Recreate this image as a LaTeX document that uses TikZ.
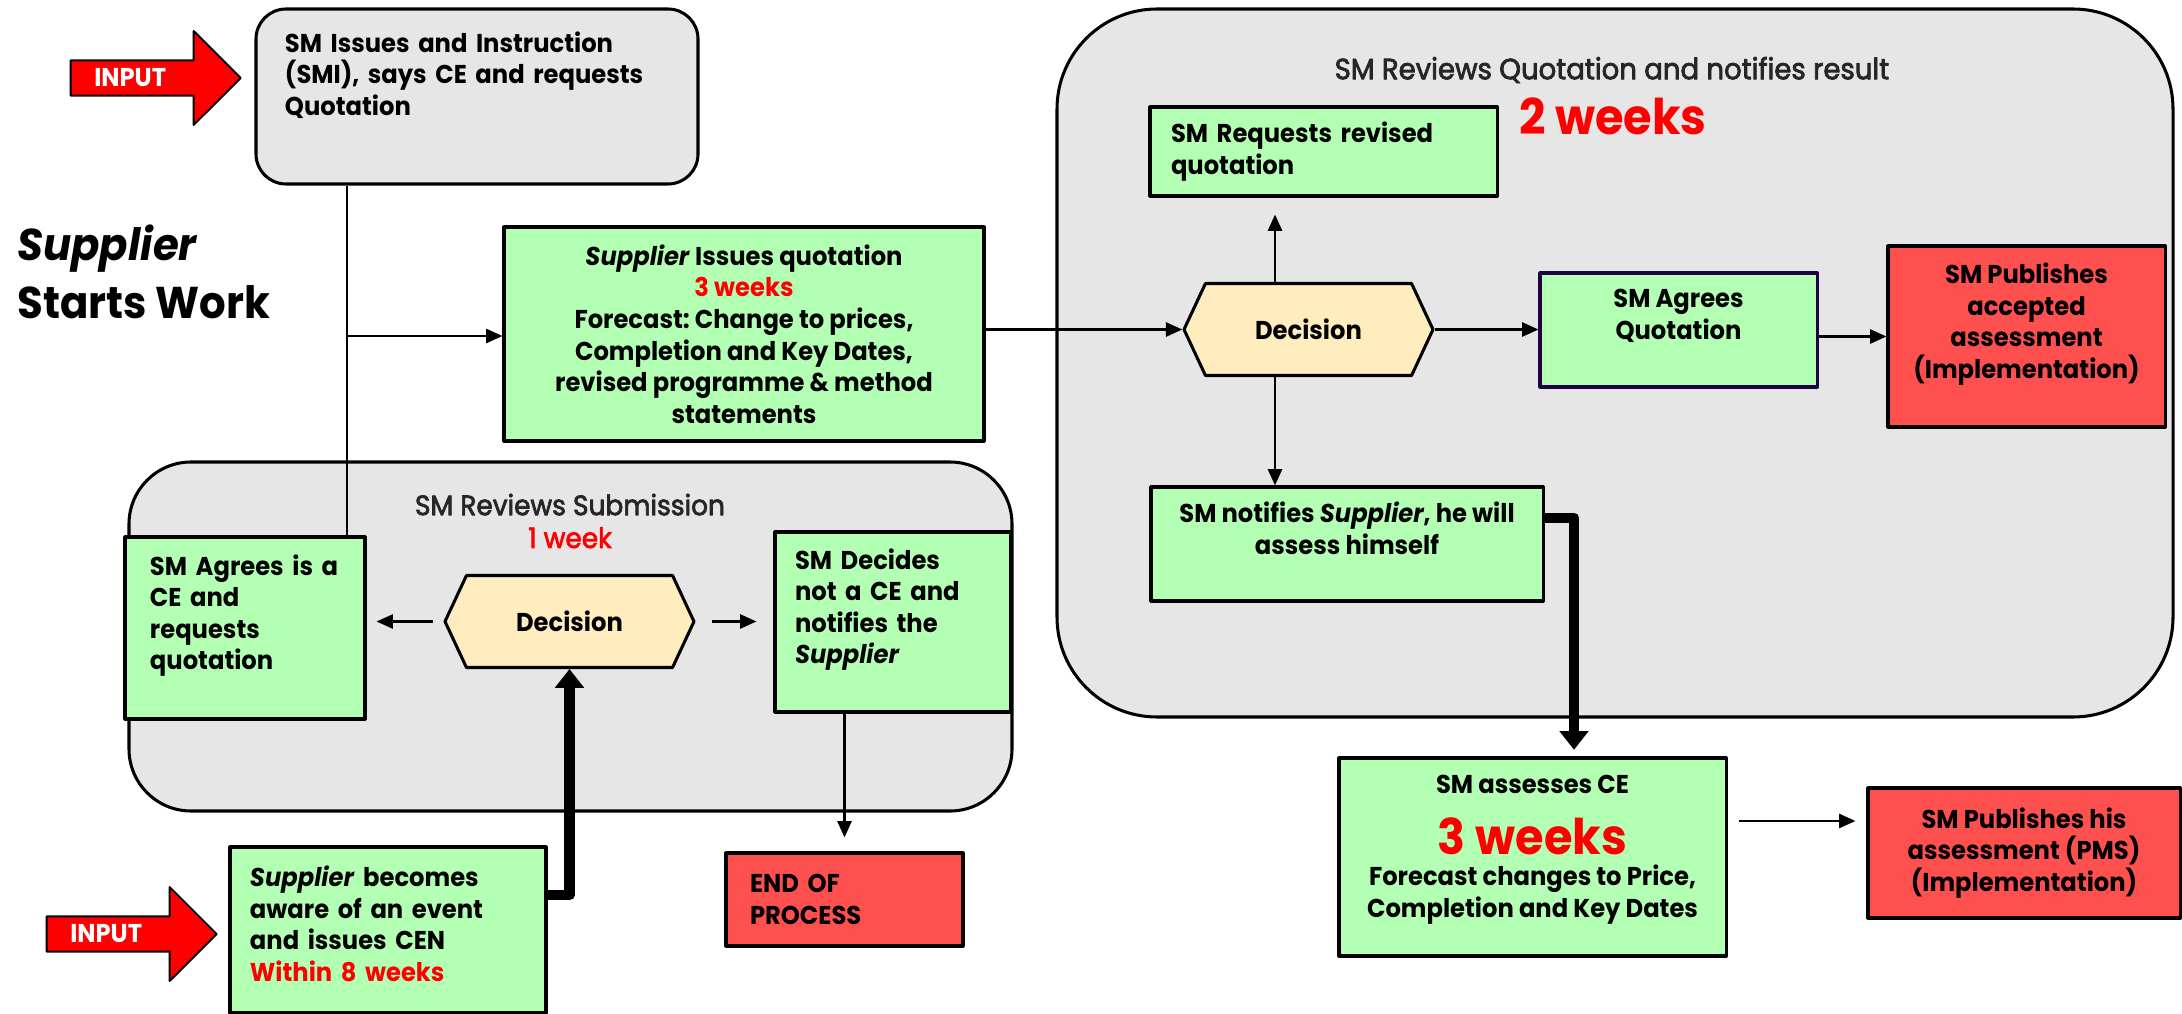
\documentclass[tikz,border=0pt]{standalone}
\usepackage{fontspec}
\setmainfont{Poppins}[FakeStretch=0.94]
\newfontfamily\titlefont{Poppins}[FakeStretch=0.94, FakeBold=2.5]
\usetikzlibrary{arrows.meta,shapes.symbols,shapes.arrows}
\frenchspacing

\definecolor{panelgray}{HTML}{E6E6E6}
\definecolor{boxgreen}{HTML}{B3FFB3}
\definecolor{boxred}{HTML}{FF5050}
\definecolor{decfill}{HTML}{FFEDBF}
\definecolor{txtred}{HTML}{FF0000}
\definecolor{edgepurple}{HTML}{1F0040}
\definecolor{titlegray}{HTML}{262626}

\newcommand{\boxfont}{\bfseries\fontsize{11}{13.5}\selectfont}
\newcommand{\weekfont}{\bfseries\fontsize{21}{25}\selectfont}

\tikzset{
  panel/.style={draw=black, line width=1.3pt, fill=panelgray},
  greybox/.style={draw=black, line width=1.3pt, fill=panelgray, inner ysep=0pt},
  greenbox/.style={draw=black, line width=1.3pt, fill=boxgreen, inner ysep=0pt},
  redbox/.style={draw=black, line width=1.3pt, fill=boxred, inner ysep=0pt},
  decision/.style={shape=signal, signal to=west and east, signal pointer angle=130,
    draw=black, line width=1.3pt, fill=decfill, minimum width=3.735cm,
    minimum height=1.38cm, inner sep=0pt},
  inputarrow/.style={shape=single arrow, draw=black, line width=0.8pt, fill=red,
    text=white, minimum height=2.55cm, minimum width=1.41cm,
    single arrow head extend=0.37cm, single arrow tip angle=90, inner sep=2pt},
  paneltitle/.style={font=\titlefont\fontsize{12}{14}\selectfont, text=titlegray, align=center},
  weeks/.style={font=\weekfont, text=txtred},
  starttext/.style={font=\bfseries\fontsize{19}{24.5}\selectfont, align=left},
  flow/.style={line width=1.1pt, -{Triangle[length=7pt,width=6pt]}},
  plain/.style={line width=1.1pt},
  bigflow/.style={line width=4.6pt, -{Triangle[length=8pt,width=12pt]}},
}

\begin{document}
\begin{tikzpicture}[x=0.015cm, y=-0.015cm, font=\boxfont, line join=round]
	% 1 unit = 1 px of the reference
	\useasboundingbox (0,0) rectangle (2182,1014);
	% grey panels
	\draw[panel, rounded corners=0.93cm] (129,462) rectangle (1012,811);
	\draw[panel, rounded corners=1.5cm] (1057,9) rectangle (2173,717);
	\node[paneltitle] (title1) at (570,521) {SM Reviews Submission\\\textcolor{txtred}{1 week}};
	\node[paneltitle, font=\titlefont\fontsize{12.5}{14}\selectfont] (title2) at (1612,70)
		{SM Reviews Quotation and notifies result};
	\node[weeks] (dur2) at (1613,116) {2 weeks};
	% inputs
	\node[inputarrow, anchor=tip] (in1) at (242,78) {INPUT\hspace*{0.5cm}};
	\node[inputarrow, anchor=tip] (in2) at (218,934) {INPUT\hspace*{0.5cm}};
	\node[starttext, anchor=west] (starts) at (9,272) {\textit{Supplier}\\Starts Work};
	% left part
	\node[greybox, rounded corners=0.45cm, minimum width=6.63cm, minimum height=2.625cm,
		inner xsep=0.435cm, text width=5.76cm, align=left] (smi) at (477,96.5)
		{SM Issues and Instruction\\(SMI), says CE and requests\\Quotation\\[6pt]~};
	\node[greenbox, minimum width=7.2cm, minimum height=3.21cm, align=center] (quote) at (744,334)
		{\textit{Supplier} Issues quotation\\\textcolor{txtred}{3 weeks}\\Forecast: Change to prices,\\Completion and Key Dates,\\revised programme \& method\\statements};
	\node[greenbox, minimum width=3.6cm, minimum height=2.73cm,
		inner xsep=0.375cm, text width=2.85cm, align=left] (agreeCE) at (245,628)
		{SM Agrees is a\\CE and\\requests\\quotation\\~};
	\node[decision] (dec1) at (569.5,621.5) {Decision};
	\node[greenbox, minimum width=3.54cm, minimum height=2.7cm,
		inner xsep=0.3cm, text width=2.94cm, align=left] (decides) at (893,622)
		{SM Decides\\not a CE and\\notifies the\\\textit{Supplier}\\~};
	\node[redbox, minimum width=3.555cm, minimum height=1.395cm,
		inner xsep=0.36cm, text width=2.835cm, align=left] (endp) at (844.5,899.5) {END OF\\PROCESS};
	\node[greenbox, minimum width=4.74cm, minimum height=2.49cm,
		inner xsep=0.3cm, text width=4.14cm, align=left] (aware) at (388,930)
		{\textit{Supplier} becomes\\aware of an event\\and issues CEN\\\textcolor{txtred}{Within 8 weeks}\\[-8pt]~};
	% right part
	\node[greenbox, minimum width=5.205cm, minimum height=1.335cm,
		inner xsep=0.315cm, text width=4.575cm, align=left] (request) at (1323.5,151.5)
		{SM Requests revised\\quotation};
	\node[decision] (dec2) at (1308.5,329.5) {Decision};
	\node[greenbox, draw=edgepurple, minimum width=4.155cm, minimum height=1.71cm,
		align=center] (agreeQ) at (1678.5,330) {SM Agrees\\Quotation\\~};
	\node[redbox, minimum width=4.155cm, minimum height=2.715cm, align=center] (pubA) at (2026.5,336.5)
		{SM Publishes\\accepted\\assessment\\(Implementation)\\~};
	\node[greenbox, minimum width=5.88cm, minimum height=1.71cm, align=center] (notify) at (1347,544)
		{SM notifies \textit{Supplier}, he will\\assess himself\\~};
	\node[greenbox, minimum width=5.805cm, minimum height=2.97cm, align=center] (assess) at (1532.5,857)
		{SM assesses CE\\[9pt]{\weekfont\color{txtred}3 weeks}\\Forecast changes to Price,\\Completion and Key Dates\\[-4.5pt]~};
	\node[redbox, minimum width=4.68cm, minimum height=1.95cm, align=center] (pubH) at (2024,853)
		{SM Publishes his\\assessment (PMS)\\(Implementation)};
	% connectors
	\coordinate (j1) at (347,336);
	\coordinate (j2) at (1275,330);
	\coordinate (j3) at (1574,518);
	\coordinate (j4) at (1790,821);
	\coordinate (j5) at (560,895);
	\draw[plain] (smi.south -| j1) -- (agreeCE.north -| j1);
	\draw[flow] (j1) -- (quote.west |- j1);
	\draw[flow] (dec2.west -| quote.east) -- (dec2.west);
	\draw[flow, shorten >=0.255cm] (dec2.north -| j2) -- (request.south -| j2);
	\draw[flow] (dec2.east) -- (agreeQ.west |- dec2.east);
	\draw[flow] (agreeQ.east |- pubA.west) -- (pubA.west);
	\draw[flow] (dec2.south -| j2) -- (notify.north -| j2);
	\draw[bigflow, shorten >=0.1cm] (notify.east |- j3) -| (assess.north -| j3);
	\draw[flow, shorten <=0.165cm, shorten >=0.165cm] (assess.east |- j4) -- (pubH.west |- j4);
	\draw[flow, shorten <=0.15cm, shorten >=0.15cm] (dec1.west) -- (agreeCE.east |- dec1.west);
	\draw[flow, shorten <=0.24cm, shorten >=0.255cm] (dec1.east) -- (decides.west |- dec1.east);
	\draw[flow, shorten >=0.21cm] (decides.south -| endp.north) -- (endp.north);
	\draw[bigflow] (aware.east |- j5) -| (dec1.south);
\end{tikzpicture}
\end{document}
